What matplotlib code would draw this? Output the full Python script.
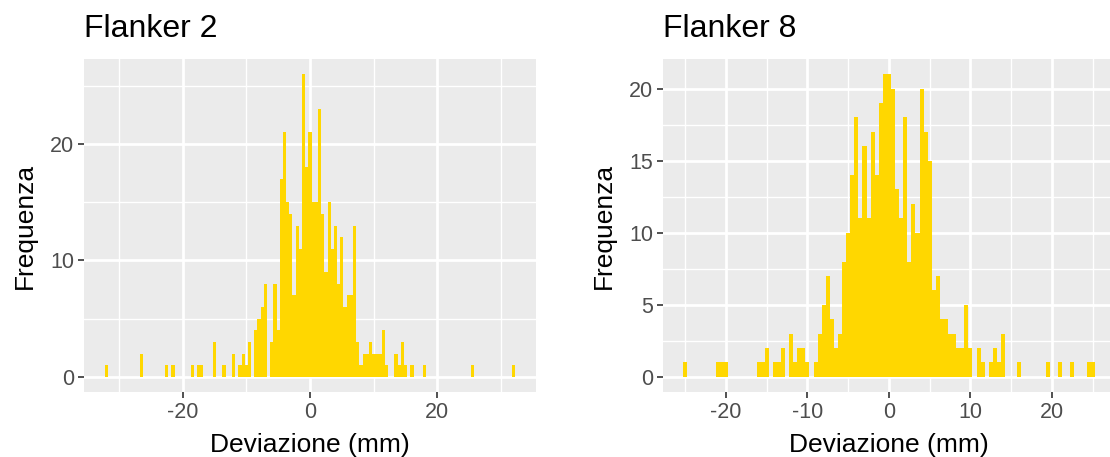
import matplotlib
matplotlib.use("Agg")
import matplotlib.pyplot as plt
from matplotlib.ticker import MultipleLocator

plt.rcParams['font.family'] = ['Liberation Sans', 'DejaVu Sans']
plt.rcParams['axes.unicode_minus'] = False

binwidth = 0.5

# Flanker 2: bin centres (mm) and counts, empty bins left out
f2_centers = [-32, -26.5, -22.5, -21.5, -18.5, -17.5, -17, -15, -13.5, -12,
              -11, -10.5, -10, -9.5, -8.5, -8, -7.5, -7, -6, -5.5,
              -5, -4.5, -4, -3.5, -3, -2.5, -2, -1.5, -1, -0.5,
              0, 0.5, 1, 1.5, 2, 2.5, 3, 3.5, 4, 4.5,
              5, 5.5, 6, 6.5, 7, 7.5, 8, 8.5, 9, 9.5,
              10, 10.5, 11, 11.5, 12, 13.5, 14, 14.5, 15, 16,
              18, 25.5, 32]
f2_counts = [1, 2, 1, 1, 1, 1, 1, 3, 1, 2,
             1, 2, 1, 3, 4, 5, 6, 8, 3, 8,
             4, 17, 21, 15, 14, 7, 13, 11, 26, 18,
             21, 15, 15, 23, 14, 9, 15, 11, 13, 8,
             12, 6, 7, 7, 13, 3, 1, 2, 2, 3,
             2, 2, 2, 4, 1, 2, 1, 3, 1, 1,
             1, 1, 1]

# Flanker 8
f8_centers = [-25, -21, -20.5, -20, -16, -15.5, -15, -14, -13.5, -13,
              -12, -11.5, -11, -10.5, -10, -9, -8.5, -8, -7.5, -7,
              -6.5, -6, -5.5, -5, -4.5, -4, -3.5, -3, -2.5, -2,
              -1.5, -1, -0.5, 0, 0.5, 1, 1.5, 2, 2.5, 3,
              3.5, 4, 4.5, 5, 5.5, 6, 6.5, 7, 7.5, 8,
              8.5, 9, 9.5, 10, 11, 11.5, 12.5, 13, 13.5, 14,
              16, 19.5, 21, 22.5, 24.5, 25]
f8_counts = [1, 1, 1, 1, 1, 1, 2, 1, 1, 2,
             3, 1, 2, 2, 1, 1, 3, 5, 7, 4,
             2, 3, 8, 10, 14, 18, 11, 16, 11, 17,
             14, 19, 21, 21, 20, 13, 11, 18, 8, 12,
             10, 20, 17, 15, 6, 7, 4, 4, 3, 3,
             2, 2, 5, 2, 2, 1, 1, 2, 1, 3,
             1, 1, 1, 1, 1, 1]

fig = plt.figure(figsize=(11.1, 4.57), dpi=100)


def panel(rect, centers, counts, title, xstep, ystep):
    ax = fig.add_axes(rect)
    ax.set_facecolor('#EBEBEB')
    ax.bar(centers, counts, width=binwidth, color='#FFD700', linewidth=0, zorder=2)

    # same 5% padding as ggplot
    lo = min(centers) - binwidth / 2
    hi = max(centers) + binwidth / 2
    ax.set_xlim(lo - 0.05 * (hi - lo), hi + 0.05 * (hi - lo))
    ax.set_ylim(-0.05 * max(counts), 1.05 * max(counts))

    ax.xaxis.set_major_locator(MultipleLocator(xstep))
    ax.xaxis.set_minor_locator(MultipleLocator(xstep / 2))
    ax.yaxis.set_major_locator(MultipleLocator(ystep))
    ax.yaxis.set_minor_locator(MultipleLocator(ystep / 2))
    ax.grid(which='major', color='white', lw=2.0, zorder=0)
    ax.grid(which='minor', color='white', lw=1.0, zorder=0)
    ax.set_axisbelow(True)
    for s in ax.spines.values():
        s.set_visible(False)
    ax.tick_params(which='minor', length=0)
    ax.tick_params(which='major', length=4, width=1.2, color='#333333',
                   labelcolor='#4D4D4D', labelsize=15.5, pad=3)

    ax.text(0.0, 1.066, title, transform=ax.transAxes, fontsize=23,
            ha='left', va='baseline')
    ax.text(0.5, -0.18, 'Deviazione (mm)', transform=ax.transAxes,
            fontsize=19, ha='center', va='baseline')
    ax.text(-0.13, 0.5, 'Frequenza', transform=ax.transAxes, fontsize=19,
            rotation=90, ha='center', va='center')
    return ax


panel([84 / 1110, 65 / 457, 452 / 1110, 333 / 457], f2_centers, f2_counts,
      'Flanker 2', 20, 10)
panel([662.6 / 1110, 65 / 457, 452.7 / 1110, 333 / 457], f8_centers, f8_counts,
      'Flanker 8', 10, 5)

fig.savefig('out.png', dpi=100)
